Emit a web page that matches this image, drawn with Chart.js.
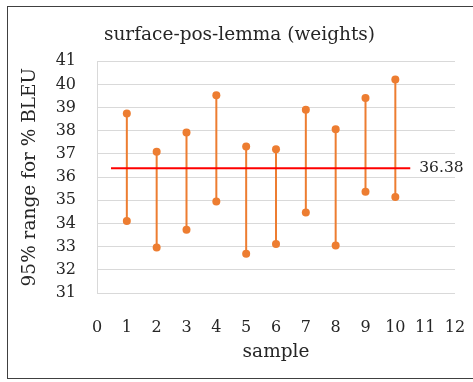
<!DOCTYPE html>
<html>
<head>
<meta charset="utf-8">
<script src="https://cdn.jsdelivr.net/npm/chart.js@4"></script>
<style>
  html, body { margin: 0; padding: 0; background: #fff; }
  #wrap { position: relative; width: 473px; height: 382px; overflow: hidden; }
  #frame { position: absolute; left: 7px; top: 6px; width: 520px; height: 371px; border: 1.5px solid #404040; }
  canvas { position: absolute; left: 0; top: 0; }
</style>
</head>
<body>
<div id="wrap">
  <div id="frame"></div>
  <canvas id="chart" width="473" height="382"></canvas>
</div>
<script>
const samples = [1, 2, 3, 4, 5, 6, 7, 8, 9, 10];
const lowBleu = [34.11, 32.96, 33.73, 34.95, 32.69, 33.11, 34.47, 33.05, 35.37, 35.14];
const highBleu = [38.74, 37.09, 37.92, 39.53, 37.32, 37.20, 38.91, 38.06, 39.41, 40.21];
const meanBleu = 36.38;
const meanSpan = [0.47, 10.5];

const orange = '#ED7D31';
const textColor = '#262626';
const serif = "'DejaVu Serif', serif";

const rangeSets = samples.map((s, i) => ({
    type: 'line',
    data: [{x: s, y: lowBleu[i]}, {x: s, y: highBleu[i]}],
    borderColor: orange,
    backgroundColor: orange,
    borderWidth: 2,
    pointRadius: 4,
    pointBorderWidth: 0,
    showLine: true
}));

const meanSet = {
    type: 'line',
    data: meanSpan.map(x => ({x, y: meanBleu})),
    borderColor: '#FF0000',
    borderWidth: 2,
    pointRadius: 0,
    showLine: true
};

// writes the mean value just right of the red line
const meanLabel = {
    id: 'meanLabel',
    afterDatasetsDraw(chart) {
        const {ctx, scales: {x, y}} = chart;
        ctx.save();
        ctx.font = '15.5px ' + serif;
        ctx.fillStyle = textColor;
        ctx.textAlign = 'left';
        ctx.textBaseline = 'middle';
        ctx.fillText(meanBleu.toFixed(2), x.getPixelForValue(meanSpan[1]) + 9, y.getPixelForValue(meanBleu));
        ctx.restore();
    }
};

new Chart(document.getElementById('chart'), {
    type: 'scatter',
    data: { datasets: [meanSet, ...rangeSets] },
    options: {
        responsive: false,
        animation: false,
        layout: { padding: { left: 24, right: 18, top: 0, bottom: 0 } },
        plugins: {
            legend: { display: false },
            tooltip: { enabled: false },
            title: {
                display: true,
                text: 'surface-pos-lemma (weights)',
                color: textColor,
                font: { family: serif, size: 18.5, weight: 'normal' },
                padding: { top: 24, bottom: 15 }
            }
        },
        scales: {
            x: {
                type: 'linear',
                min: 0, max: 12,
                afterFit: s => { s.height = 89; s.paddingLeft = 0; s.paddingRight = 0; },
                grid: { display: false },
                border: { display: false },
                ticks: { stepSize: 1, color: textColor, padding: 17, font: { family: serif, size: 16 } },
                title: {
                    display: true, text: 'sample', color: textColor,
                    font: { family: serif, size: 18.5 },
                    padding: { top: 0, bottom: 19 }
                }
            },
            y: {
                min: 31, max: 41,
                afterFit: s => { s.width = 73; s.paddingTop = 0; s.paddingBottom = 0; },
                grid: { color: '#D9D9D9', drawTicks: false },
                border: { display: true, color: '#D9D9D9' },
                ticks: { stepSize: 1, color: textColor, padding: 21, font: { family: serif, size: 16 } },
                title: {
                    display: true, text: '95% range for % BLEU', color: textColor,
                    font: { family: serif, size: 18.5 },
                    padding: { top: -5, bottom: 0 }
                }
            }
        }
    },
    plugins: [meanLabel]
});
</script>
</body>
</html>
